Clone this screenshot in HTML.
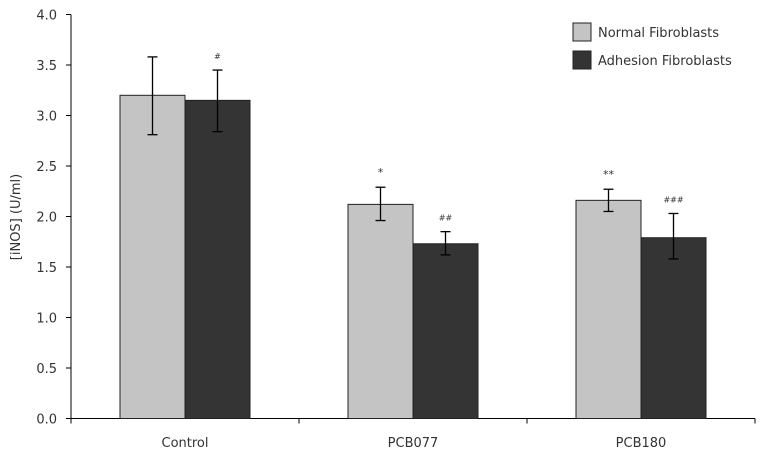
<!DOCTYPE html>
<html><head><meta charset="utf-8"><style>
body{margin:0;background:#fff}
svg text{font-family:"DejaVu Sans","Liberation Sans",sans-serif;fill:#333}
</style></head><body>
<svg id="chart" width="763" height="459" xmlns="http://www.w3.org/2000/svg"></svg>
<script>
const categories=["Control","PCB077","PCB180"];
const normalValues=[3.2,2.12,2.16];
const normalErrLow=[2.81,1.96,2.05];
const normalErrHigh=[3.58,2.29,2.27];
const adhesionValues=[3.15,1.73,1.79];
const adhesionErrLow=[2.84,1.62,1.58];
const adhesionErrHigh=[3.45,1.85,2.03];
const normalMarks=["","*","**"];
const adhesionMarks=["#","##","###"];
const yTicks=[0,0.5,1,1.5,2,2.5,3,3.5,4];

const svg=document.getElementById('chart');
const NS="http://www.w3.org/2000/svg";
const x0=71,catW=228,y0=418.5,yTop=14.5,yMax=4;
function y(v){return y0-(y0-yTop)*v/yMax;}
function xc(i){return x0+catW*(i+0.5);}
function mk(t,a,p){const e=document.createElementNS(NS,t);for(const k in a)e.setAttribute(k,a[k]);(p||svg).appendChild(e);return e;}

let ax=mk('line',{x1:x0,y1:yTop,x2:x0,y2:y0,stroke:'#000','stroke-width':1});

let bx=mk('line',{x1:x0,y1:y0,x2:x0+catW*3,y2:y0,stroke:'#000','stroke-width':1});

yTicks.forEach(v=>{
  const t=mk('line',{x1:x0-5,y1:y(v),x2:x0,y2:y(v),stroke:'#000'});
  
  const l=mk('text',{x:x0-14,y:y(v)+5,'text-anchor':'end','font-size':13});
  l.textContent=v.toFixed(1);
  
});
for(let i=0;i<=3;i++){
  const t=mk('line',{x1:x0+catW*i,y1:y0,x2:x0+catW*i,y2:y0+5,stroke:'#000'});
  
}
const yt=mk('text',{x:0,y:0,'text-anchor':'middle','font-size':13,transform:'translate(20,217) rotate(-90)'});
yt.textContent='[iNOS] (U/ml)';


const bw=65;
function drawBar(i,v,lo,hi,fill,off,mark,name){
  const cx=xc(i);
  const r=mk('rect',{x:cx+off,y:y(v),width:bw,height:y0-y(v),fill:fill,stroke:'#222','stroke-width':1});
  
  const ex=cx+off+bw/2;
  const g=mk('g',{stroke:'#000','stroke-width':1.3});
  
  mk('line',{x1:ex,y1:y(lo),x2:ex,y2:y(hi)},g);
  mk('line',{x1:ex-5,y1:y(lo),x2:ex+5,y2:y(lo)},g);
  mk('line',{x1:ex-5,y1:y(hi),x2:ex+5,y2:y(hi)},g);
  if(mark){const t=mk('text',{x:ex,y:y(hi)-11,'text-anchor':'middle','font-size':mark[0]=='#'?8:11});
    t.textContent=mark;}
}
categories.forEach((c,i)=>{
  drawBar(i,normalValues[i],normalErrLow[i],normalErrHigh[i],'#c4c4c4',-bw,normalMarks[i],'normal');
  drawBar(i,adhesionValues[i],adhesionErrLow[i],adhesionErrHigh[i],'#343434',0,adhesionMarks[i],'adhesion');
  const l=mk('text',{x:xc(i),y:447,'text-anchor':'middle','font-size':13});
  l.textContent=c;
});
[['Normal Fibroblasts','#c4c4c4',23],['Adhesion Fibroblasts','#343434',51]].forEach(([t,f,yy])=>{
  const g=mk('g',{});
  
  mk('rect',{x:573,y:yy,width:18,height:18,fill:f,stroke:'#222'},g);
  const tx=mk('text',{x:598,y:yy+14,'font-size':13},g);tx.textContent=t;
});
</script>
</body></html>
